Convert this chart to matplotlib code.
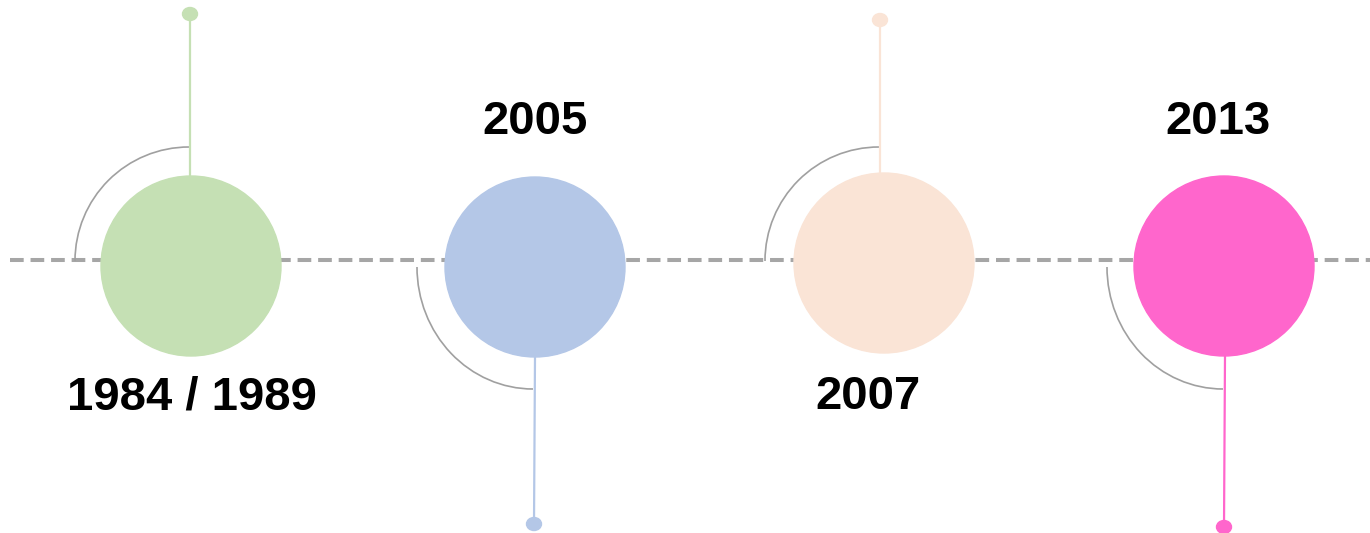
import numpy as np
import matplotlib.pyplot as plt
from matplotlib.patches import Circle, Arc, Ellipse

# timeline data
labels = ['1984 / 1989', '2005', '2007', '2013']
colors = ['#c5e0b4', '#b4c7e7', '#fae4d6', '#ff66cc']
up = [True, False, True, False]          # stem direction

# layout (pixels)
xs = [191, 535, 884, 1224]
cys = [266, 267, 263, 266]
stem_x = [190, 534, 880, 1224]
stem_end = [14, 524, 20, 527]
label_x = [192, 535, 868, 1218]

W, H = 1370, 533
fig = plt.figure(figsize=(W / 100, H / 100), dpi=100)
ax = fig.add_axes([0, 0, 1, 1])
ax.set_xlim(0, W)
ax.set_ylim(H, 0)
ax.axis('off')

line_y = 260
r = 90

# dashed axis
ax.plot([10, W], [line_y, line_y], color='#a6a6a6', lw=2.9,
        dashes=(3.4, 1.7), zorder=1)

for i, (x, cy, lab, c) in enumerate(zip(xs, cys, labels, colors)):
    sx = stem_x[i]
    if up[i]:
        # arc from left to top, stem up
        ax.add_patch(Arc((sx - 1, line_y + 1), 228, 228, theta1=180, theta2=270,
                         color='#a0a0a0', lw=1.2, zorder=2))
        ax.plot([sx, sx], [cy - r, stem_end[i]], color=c, lw=1.6, zorder=2)
        ty = 397
    else:
        ax.add_patch(Arc((sx - 1, line_y + 7), 232, 244, theta1=90, theta2=180,
                         color='#a0a0a0', lw=1.2, zorder=2))
        ax.plot([sx + 1, sx], [cy + r, stem_end[i]], color=c, lw=1.6, zorder=2)
        ty = 122
    ax.add_patch(Ellipse((sx, stem_end[i]), 15, 13, color=c, zorder=3))
    ax.add_patch(Circle((x, cy), r, color=c, zorder=4))
    ax.text(label_x[i], ty, lab, ha='center', va='center',
            fontsize=34, fontweight='bold', family='Liberation Sans', color='black')

fig.savefig('out.png', dpi=100)
